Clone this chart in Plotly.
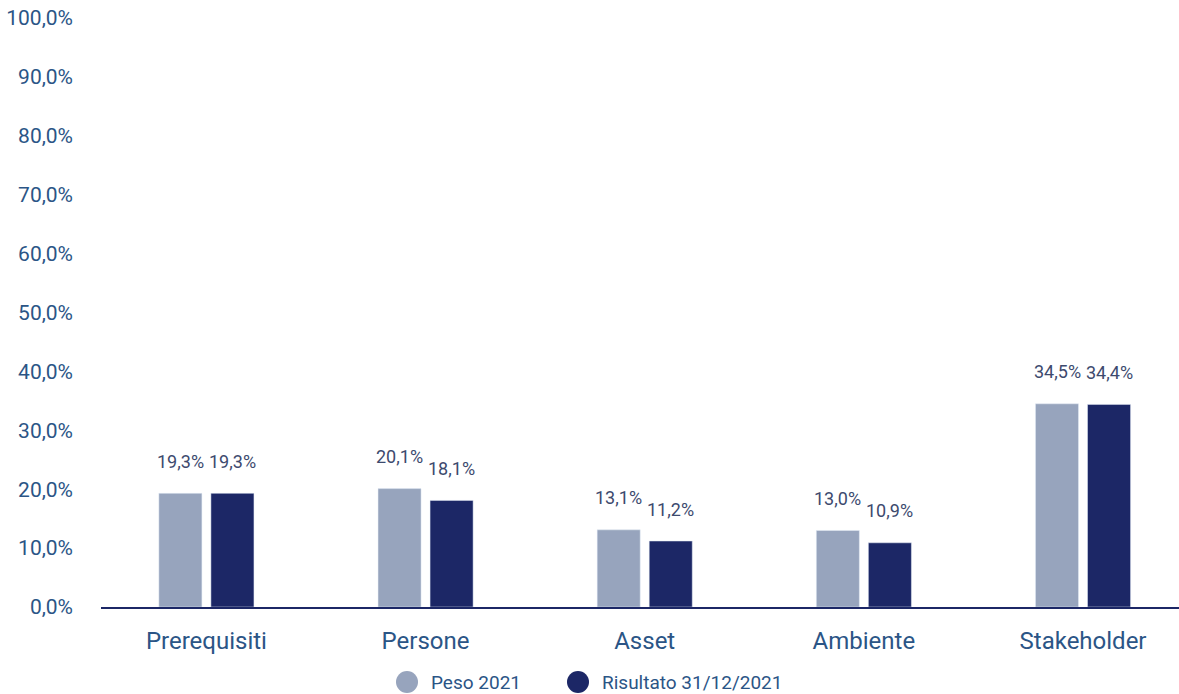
import plotly.graph_objects as go

categories = ["Prerequisiti", "Persone", "Asset", "Ambiente", "Stakeholder"]
peso_2021 = [19.3, 20.1, 13.1, 13.0, 34.5]
risultato_2021 = [19.3, 18.1, 11.2, 10.9, 34.4]
series_names = ["Peso 2021", "Risultato 31/12/2021"]
y_ticks = [0, 10, 20, 30, 40, 50, 60, 70, 80, 90, 100]

LIGHT = "#97a4bd"
DARK = "#1c2766"
TICK_COLOR = "#2b5586"
LABEL_COLOR = "#3d4a6e"
FONT = "Roboto"

W, H = 1179, 694
ML, MR, MT, MB = 101, 0, 18, 87
PW, PH = W - ML - MR, H - MT - MB


def px_to_paper(px, py):
    return (px - ML) / PW, (H - MB - py) / PH


def fmt(v):
    return f"{v:.1f}".replace(".", ",") + "%"


fig = go.Figure()
for name, vals, color in [(series_names[0], peso_2021, LIGHT),
                          (series_names[1], risultato_2021, DARK)]:
    fig.add_trace(go.Bar(x=categories, y=vals, name=name, marker_color=color,
                         showlegend=False))

annotations = []
for vals, shift in [(peso_2021, -26), (risultato_2021, 26)]:
    for c, v in zip(categories, vals):
        annotations.append(dict(x=c, y=v, text=fmt(v), showarrow=False,
                                xshift=shift, yshift=32, yanchor="middle",
                                font=dict(family=FONT, size=18, color=LABEL_COLOR)))

# legend drawn as circles with labels under the axis
shapes = []
for name, color, cx, tx in [(series_names[0], LIGHT, 407, 429),
                            (series_names[1], DARK, 578, 600)]:
    xp, yp = px_to_paper(cx, 682)
    shapes.append(dict(type="circle", xref="paper", yref="paper",
                       xsizemode="pixel", ysizemode="pixel",
                       xanchor=xp, yanchor=yp, x0=-11, x1=11, y0=-11, y1=11,
                       fillcolor=color, line=dict(width=0)))
    txp, _ = px_to_paper(tx, 682)
    annotations.append(dict(x=txp, y=yp, xref="paper", yref="paper", text=name,
                            showarrow=False, xanchor="left", yanchor="middle",
                            font=dict(family=FONT, size=19, color=TICK_COLOR)))

fig.update_layout(
    width=W, height=H,
    margin=dict(l=ML, r=MR, t=MT, b=MB),
    paper_bgcolor="white", plot_bgcolor="white",
    barmode="group", bargap=0.525, bargroupgap=0.173,
    showlegend=False,
    font=dict(family=FONT, color=TICK_COLOR),
    annotations=annotations,
    shapes=shapes,
)
fig.update_xaxes(showline=True, linecolor=DARK, linewidth=2, showgrid=False,
                 range=[-0.481, 4.438],
                 ticks="", tickfont=dict(family=FONT, size=24, color=TICK_COLOR),
                 ticklabelstandoff=11)
fig.update_yaxes(range=[0, 100], tickmode="array", tickvals=y_ticks,
                 ticktext=[fmt(t) for t in y_ticks],
                 showgrid=False, zeroline=False, showline=False,
                 tickfont=dict(family=FONT, size=21, color=TICK_COLOR),
                 ticklabelstandoff=27)

fig.write_html("out.html")
